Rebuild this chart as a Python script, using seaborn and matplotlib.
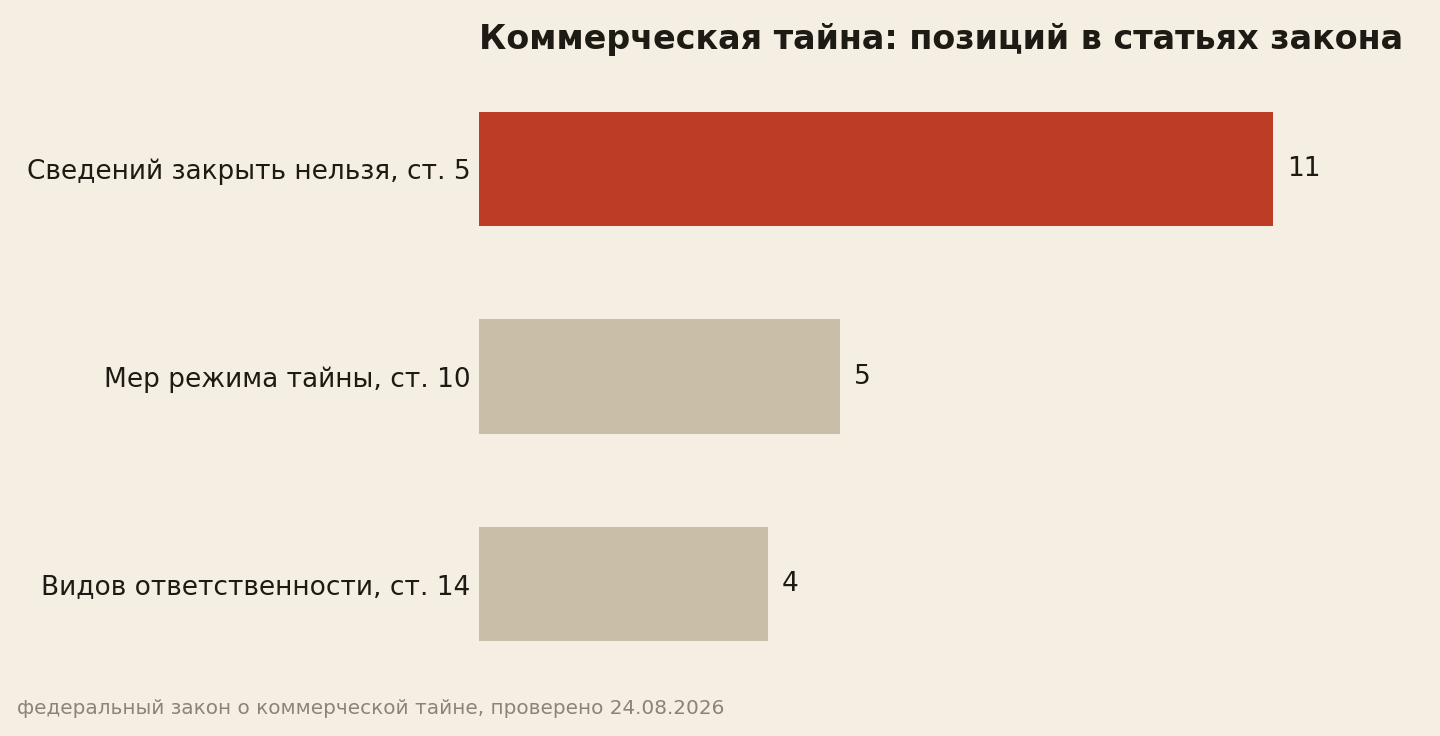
import matplotlib
matplotlib.use("Agg")
import matplotlib.pyplot as plt
import seaborn as sns
import pandas as pd

categories = ["Сведений закрыть нельзя, ст. 5", "Мер режима тайны, ст. 10", "Видов ответственности, ст. 14"]
values = [11, 5, 4]
bar_colors = ["#BC3C26", "#C9BFA8", "#C9BFA8"]
title = "Коммерческая тайна: позиций в статьях закона"
footer = "федеральный закон о коммерческой тайне, проверено 24.08.2026"

BG = "#F5EFE3"
INK = "#1E1A14"

sns.set_theme(style="white")
plt.rcParams["font.family"] = ["DejaVu Sans"]

df = pd.DataFrame({"cat": categories, "val": values})

fig = plt.figure(figsize=(14.4, 7.36), dpi=100, facecolor=BG)
ax = fig.add_axes([479/1440, 1 - 688/736, (1400-479)/1440, (688-65)/736])
ax.set_facecolor(BG)

sns.barplot(data=df, x="val", y="cat", hue="cat", palette=bar_colors, legend=False,
            width=0.55, ax=ax, saturation=1, linewidth=0, edgecolor="none")

ax.set_xlim(0, (1400-479)/(794/11))
ax.set_ylim(2.5, -0.5)
ax.set_xlabel("")
ax.set_ylabel("")
ax.set_xticks([])
for s in ax.spines.values():
    s.set_visible(False)
ax.tick_params(axis="y", length=0, pad=6, labelsize=19, labelcolor=INK)

for i, v in enumerate(values):
    ax.text(v + 0.2, i, str(v), va="center", ha="left", fontsize=19, color=INK)

fig.text(479/1440, 1 - 40/736, title, fontsize=24, fontweight="bold", color=INK,
         ha="left", va="center")
fig.text(17/1440, 1 - 708/736, footer, fontsize=14.4, color="#8A8478", ha="left", va="center")

fig.savefig("out.png", dpi=100, facecolor=BG)
